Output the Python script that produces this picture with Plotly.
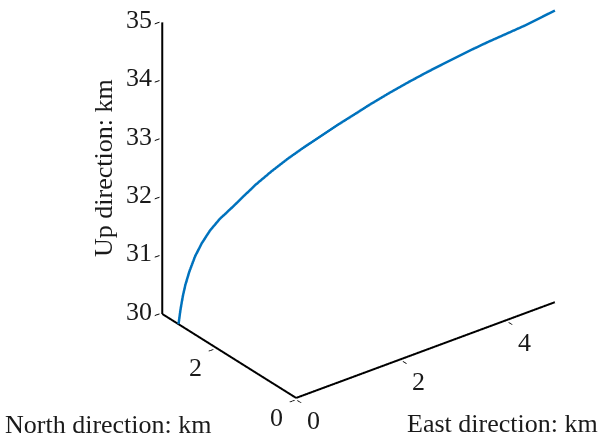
import plotly.graph_objects as go

# Trajectory (km)
east_km = [0.0, 0.026, 0.055, 0.090, 0.141, 0.217, 0.301, 0.408, 0.535, 0.683, 0.790,
           1.001, 1.214, 1.426, 1.638, 1.850, 2.063, 2.317, 2.487, 2.741, 2.996, 3.250,
           3.505, 3.760, 4.014, 4.269, 4.523, 4.778, 4.9]
north_km = [2.9, 2.885, 2.867, 2.847, 2.817, 2.772, 2.722, 2.659, 2.583, 2.496, 2.432,
            2.308, 2.182, 2.056, 1.931, 1.805, 1.679, 1.529, 1.428, 1.278, 1.127, 0.977,
            0.826, 0.675, 0.524, 0.373, 0.223, 0.072, 0.0]
up_km = [30.0, 30.25, 30.47, 30.67, 30.89, 31.15, 31.36, 31.57, 31.76, 31.93, 32.06,
         32.31, 32.53, 32.73, 32.91, 33.08, 33.25, 33.44, 33.57, 33.75, 33.92, 34.08,
         34.23, 34.38, 34.52, 34.65, 34.78, 34.93, 35.0]

east_range = [0, 4.9]
north_range = [0, 3.3]
up_range = [30, 35]
east_ticks = [0, 2, 4]
north_ticks = [0, 2]
up_ticks = [30, 31, 32, 33, 34, 35]

FONT = "Liberation Serif"
TXT = "#1a1a1a"
FS = 26
PAD = 0.03  # tiny scene padding so edge lines are not clipped by the scene box

fig = go.Figure()

# axis edge lines (drawn as traces so they get MATLAB-like thickness)
e0, n0, n1, u0 = east_range[0], north_range[0], north_range[1], up_range[0]
edge = dict(mode="lines", line=dict(color="black", width=4),
            showlegend=False, hoverinfo="skip")
fig.add_trace(go.Scatter3d(x=east_range, y=[n0, n0], z=[u0, u0], **edge))
fig.add_trace(go.Scatter3d(x=[e0, e0], y=north_range, z=[u0, u0], **edge))
fig.add_trace(go.Scatter3d(x=[e0, e0], y=[n1, n1], z=up_range, **edge))

fig.add_trace(go.Scatter3d(
    x=east_km, y=north_km, z=up_km, mode="lines",
    line=dict(color="#0072BD", width=5), showlegend=False, hoverinfo="skip"))


def ax(rng, tv):
    return dict(range=[rng[0] - PAD, rng[1] + PAD], tickvals=tv, showticklabels=False,
                showgrid=False, zeroline=False, showbackground=False,
                showline=False,
                ticks="outside", ticklen=6, tickcolor="black", tickwidth=2,
                title=dict(text=""), showspikes=False, autorange=False)


# tick labels placed at the tick positions
tick_ann = []
for t in up_ticks:
    tick_ann.append(dict(x=east_range[0], y=north_range[1], z=t, text=str(t),
                         xanchor="right", yanchor="middle", xshift=-8, yshift=3))
for t in north_ticks:
    tick_ann.append(dict(x=east_range[0], y=t, z=up_range[0], text=str(t),
                         xanchor="center", yanchor="middle", xshift=-20, yshift=-20))
for t in east_ticks:
    tick_ann.append(dict(x=t, y=north_range[0], z=up_range[0], text=str(t),
                         xanchor="center", yanchor="middle", xshift=17, yshift=-23))
for a in tick_ann:
    a.update(showarrow=False, font=dict(family=FONT, size=FS, color=TXT))

# view: azimuth -37.5 deg, elevation ~28.8 deg, orthographic
d = (-0.5337, -0.6949, 0.4818)
s = 2.0
c = (-0.288, 0.062, -0.23)
z_aspect = 1.513
ex = 4.9 + 2 * PAD
ny = 3.3 + 2 * PAD
uz = 5 + 2 * PAD
fig.update_layout(
    width=600, height=440,
    margin=dict(l=0, r=0, t=0, b=0),
    paper_bgcolor="white",
    font=dict(family=FONT, size=FS, color=TXT),
    scene=dict(
        domain=dict(x=[0, 1], y=[0, 1]),
        xaxis=ax(east_range, east_ticks),
        yaxis=ax(north_range, north_ticks),
        zaxis=ax(up_range, up_ticks),
        aspectmode="manual",
        aspectratio=dict(x=z_aspect * ex / 5, y=z_aspect * ny / 5, z=z_aspect * uz / 5),
        camera=dict(projection=dict(type="orthographic"),
                    eye=dict(x=c[0] + d[0] * s, y=c[1] + d[1] * s, z=c[2] + d[2] * s),
                    up=dict(x=0, y=0, z=1),
                    center=dict(x=c[0], y=c[1], z=c[2])),
        annotations=tick_ann,
    ),
    annotations=[
        dict(text="North direction: km", x=0.005, y=0.035, xref="paper", yref="paper",
             xanchor="left", yanchor="middle", showarrow=False,
             font=dict(family=FONT, size=FS, color=TXT)),
        dict(text="East direction: km", x=1.0, y=0.038, xref="paper", yref="paper",
             xanchor="right", yanchor="middle", showarrow=False,
             font=dict(family=FONT, size=FS, color=TXT)),
        dict(text="Up direction: km", x=103 / 600, y=1 - 168 / 440, xref="paper", yref="paper",
             xanchor="center", yanchor="middle", textangle=-90, showarrow=False,
             font=dict(family=FONT, size=FS, color=TXT)),
    ],
)

fig.write_html("out.html")
